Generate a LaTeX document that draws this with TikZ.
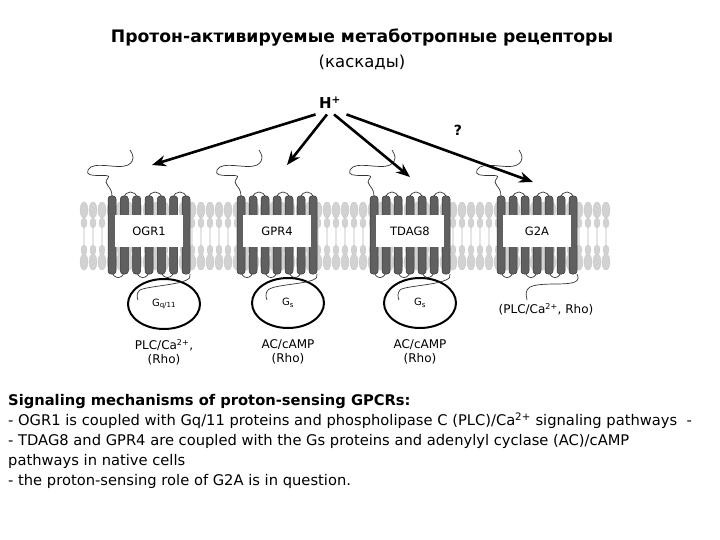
\documentclass[tikz,border=0pt]{standalone}
\usepackage{fontspec}
\setmainfont{DejaVu Sans}
\usetikzlibrary{arrows.meta,shapes.geometric}
\begin{document}
\begin{tikzpicture}[x=1pt,y=-1pt,
  lipid/.style={fill=gray!35,draw=gray!45,line width=0.3pt},
  helix/.style={fill=gray!75!black,draw=gray!40!black,rounded corners=3pt,line width=0.5pt},
  loop/.style={draw=black!80,line width=0.7pt},
  lbl/.style={fill=white,inner sep=0pt,minimum width=68pt,minimum height=32pt,font=\fontsize{11.5}{12}\selectfont},
  gprot/.style={draw=black,line width=2pt,ellipse,minimum width=72pt,minimum height=50pt},
  pa/.style={-{Stealth[length=14pt,width=11pt]},line width=2.6pt},
  txt/.style={font=\fontsize{12}{14}\selectfont,align=center},
  body/.style={anchor=west,font=\fontsize{14.7}{16}\selectfont,inner sep=0pt}]
\useasboundingbox (0,0) rectangle (720,540);
\node[font=\bfseries\fontsize{17.2}{19}\selectfont] (t1) at (362,38) {Протон-активируемые метаботропные рецепторы};
\node[font=\fontsize{16.5}{18}\selectfont] (t2) at (362,62) {(каскады)};
% lipids
\foreach \x in {84,93,...,610}{
  \fill[gray!20] (\x-1.2,212) rectangle (\x+1.2,262);
  \draw[lipid] (\x,210) ellipse (4 and 8);
  \draw[lipid] (\x,223) ellipse (3 and 5);
  \draw[lipid] (\x,250) ellipse (3 and 5);
  \draw[lipid] (\x,262) ellipse (4 and 8);
}
% receptors
\foreach \xa/\xb/\nm [count=\i] in {108/190/OGR1,237/317/GPR4,370/450/TDAG8,497/577/G2A}{
  \pgfmathsetmacro{\dx}{(\xb-\xa-8)/6}
  \foreach \k in {0,...,6}{
    \pgfmathsetmacro{\hx}{\xa+\k*\dx}
    \ifnum\k<6
      \pgfmathsetmacro{\nx}{\xa+(\k+1)*\dx}
      \ifodd\k
        \draw[loop] (\hx+4,198) .. controls (\hx+4,190) and (\nx+4,190) .. (\nx+4,198);
      \else
        \draw[loop] (\hx+4,270) .. controls (\hx+4,280) and (\nx+4,280) .. (\nx+4,270);
      \fi
    \fi
    \draw[helix] (\hx,196) rectangle (\hx+8,274);
  }
  \node[lbl] (r\i) at ({(\xa+\xb)/2},231) {\nm};
  \draw[loop] (\xa+4,196) .. controls (\xa+4,185) and (\xa-6,185) .. (\xa,178) .. controls (\xa+6,172) and (\xa-25,180) .. (\xa-20,170) .. controls (\xa-15,160) and (\xa+10,170) .. (\xa+20,165) .. controls (\xa+28,160) and (\xa+25,155) .. (\xa+22,150);
}
% G proteins
\node[gprot] (g1) at (164,304) {\fontsize{10}{11}\selectfont G\textsubscript{q/11}};
\node[gprot] (g2) at (288,303) {\fontsize{10}{11}\selectfont G\textsubscript{s}};
\node[gprot] (g3) at (420,303) {\fontsize{10}{11}\selectfont G\textsubscript{s}};
\draw[loop] (190,274) .. controls (195,285) and (150,285) .. (140,290) .. controls (136,293) and (137,298) .. (138,300);
\draw[loop] (317,274) .. controls (322,285) and (275,283) .. (268,290) .. controls (265,293) and (266,298) .. (267,300);
\draw[loop] (450,274) .. controls (455,285) and (405,285) .. (400,290) .. controls (397,293) and (398,298) .. (399,300);
\draw[loop] (577,274) .. controls (585,290) and (545,280) .. (530,287) .. controls (525,290) and (526,295) .. (527,300);
% downstream texts
\node[txt] (d1) at (164,352) {PLC/Ca\textsuperscript{2+},\\(Rho)};
\node[txt] (d2) at (288,352) {AC/cAMP\\(Rho)};
\node[txt] (d3) at (420,352) {AC/cAMP\\(Rho)};
\node[txt] (d4) at (546,309) {(PLC/Ca\textsuperscript{2+}, Rho)};
% H+
\node[font=\bfseries\fontsize{15}{16}\selectfont] (h) at (330,103) {H\textsuperscript{+}};
\node[font=\bfseries\fontsize{14}{15}\selectfont] (q) at (458,130) {?};
\coordinate (a1) at (152,165);
\coordinate (a2) at (287,165);
\coordinate (a3) at (410,177);
\coordinate (a4) at (533,182);
\draw[pa] (h.south west) ++(0,2) -- (a1);
\draw[pa] (h.south) ++(-3,2) -- (a2);
\draw[pa] (h.south) ++(4,2) -- (a3);
\draw[pa] (h.south east) ++(2,2) -- (a4);
% body text
\node[body,font=\bfseries\fontsize{14.7}{16}\selectfont] (b1) at (8,402) {Signaling mechanisms of proton-sensing GPCRs:};
\node[body] (b2) at (8,421) {- OGR1 is coupled with Gq/11 proteins and phospholipase C (PLC)/Ca\textsuperscript{2+} signaling pathways\ \ -};
\node[body] (b3) at (8,441) {- TDAG8 and GPR4 are coupled with the Gs proteins and adenylyl cyclase (AC)/cAMP};
\node[body] (b4) at (8,461) {pathways in native cells};
\node[body] (b5) at (8,481) {- the proton-sensing role of G2A is in question.};
\end{tikzpicture}
\end{document}
